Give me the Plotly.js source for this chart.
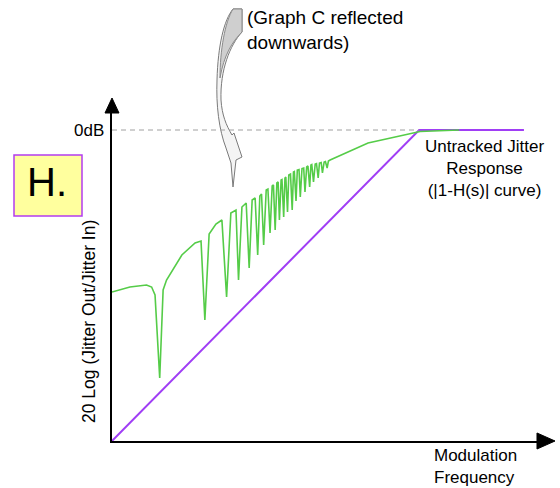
<!DOCTYPE html>
<html>
<head>
<meta charset="utf-8">
<script src="https://cdn.plot.ly/plotly-3.0.1.min.js"></script>
<style>
  html, body { margin: 0; padding: 0; background: #ffffff; }
  #chart { width: 560px; height: 488px; }
</style>
</head>
<body>
<div id="chart"></div>
<script>
// Untracked jitter response: measured curve (green) with its notches
const jitterFreq = [0, 4.2, 8.1, 9.3, 10.1, 11.2, 12.0, 12.8, 16.4, 19.5,
  20.9, 21.8, 22.8, 24.4, 25.8, 26.9, 27.9, 29.1, 29.7, 30.5,
  31.5, 32.2, 32.9, 33.6, 34.2, 34.7, 35.1, 35.6, 36.2, 36.6,
  37.1, 37.6, 37.9, 38.3, 38.7, 39.0, 39.3, 39.7, 39.9, 40.3,
  40.6, 40.8, 41.2, 41.5, 41.9, 42.3, 42.6, 42.8, 43.2, 43.5,
  43.9, 44.2, 44.6, 45.0, 45.3, 45.7, 46.0, 46.4, 46.7, 46.9,
  47.3, 47.7, 48.0, 48.4, 48.7, 49.1, 49.4, 49.8, 50.1, 50.5,
  50.8, 51.2, 60.1, 72.3, 81.5];
const jitterDb = [-16.2, -15.7, -15.5, -15.7, -16.5, -24.8, -16.0, -15.0, -12.5, -11.3,
  -11.1, -19.0, -10.4, -9.4, -9.0, -16.7, -8.3, -8.0, -15.0, -7.7,
  -7.3, -13.8, -7.0, -6.8, -12.5, -6.6, -6.4, -11.5, -6.0, -5.9,
  -10.3, -5.6, -5.5, -10.0, -5.3, -5.2, -9.0, -5.0, -4.95, -8.7,
  -4.8, -4.7, -8.2, -4.5, -4.4, -8.0, -4.2, -4.15, -7.1, -4.0,
  -3.95, -6.7, -3.85, -3.8, -6.2, -3.7, -3.6, -5.7, -3.5, -3.45,
  -5.2, -3.4, -3.35, -4.8, -3.3, -3.25, -4.3, -3.2, -3.15, -3.8,
  -3.1, -3.0, -1.3, -0.15, 0];

// Ideal |1-H(s)| asymptote (purple)
const idealFreq = [0, 72.1, 96.7];
const idealDb = [-31.1, 0, 0];

// 0 dB reference level
const refLevelDb = 0;
const refLevelSpan = [0, 72];

// Text
const refLabel = '0dB';
const yLabel = '20 Log (Jitter Out/Jitter In)';
const xLabel = 'Modulation<br>Frequency';
const curveLabel = 'Untracked Jitter<br>Response<br>(|1-H(s)| curve)';
const noteLabel = '(Graph C reflected<br>downwards)';
const panelLabel = 'H.';

// Plot-area geometry (pixels) and a helper to place decorations in paper units
const L = 112, R = 538, T = 112, B = 441;
const W = R - L, H = B - T;
const px = x => (x - L) / W;
const py = y => (B - y) / H;
const P = (x, y) => px(x).toFixed(5) + ',' + py(y).toFixed(5);

const FONT = 'Liberation Sans, Arial, Helvetica, sans-serif';

const traces = [
  {
    x: idealFreq, y: idealDb, type: 'scatter', mode: 'lines',
    line: { color: '#a03ef5', width: 2 }, hoverinfo: 'skip'
  },
  {
    x: jitterFreq, y: jitterDb, type: 'scatter', mode: 'lines',
    line: { color: '#55cc48', width: 1.6 }, hoverinfo: 'skip'
  }
];

const arrowOutline =
  'M ' + P(233, 9) + ' L ' + P(242, 9) + ' L ' + P(242, 32) +
  ' C ' + P(230, 45) + ' ' + P(220, 70) + ' ' + P(221, 100) +
  ' C ' + P(222, 115) + ' ' + P(226, 125) + ' ' + P(232, 135) +
  ' L ' + P(234, 133) + ' L ' + P(242, 157) + ' L ' + P(236, 160) +
  ' L ' + P(233, 187) + ' L ' + P(231, 163) + ' L ' + P(226, 148) +
  ' C ' + P(219, 130) + ' ' + P(216, 105) + ' ' + P(217, 80) +
  ' C ' + P(218, 45) + ' ' + P(224, 20) + ' ' + P(233, 9) + ' Z';
const arrowShade =
  'M ' + P(233, 9) + ' L ' + P(242, 9) + ' L ' + P(242, 32) +
  ' C ' + P(232, 42) + ' ' + P(224, 55) + ' ' + P(220, 78) +
  ' C ' + P(220, 50) + ' ' + P(225, 22) + ' ' + P(233, 9) + ' Z';

const shapes = [
  // curved pointer
  { type: 'path', xref: 'paper', yref: 'paper', path: arrowOutline,
    fillcolor: '#f4f4f4', line: { color: '#7a7a7a', width: 1 } },
  { type: 'path', xref: 'paper', yref: 'paper', path: arrowShade,
    fillcolor: '#cfcfcf', line: { color: '#8a8a8a', width: 1 } },
  // 0 dB reference line
  { type: 'line', xref: 'x', yref: 'y', x0: refLevelSpan[0], x1: refLevelSpan[1],
    y0: refLevelDb, y1: refLevelDb, line: { color: '#a0a0a0', width: 1, dash: '5px,4px' } },
  // axis arrowheads
  { type: 'path', xref: 'paper', yref: 'paper',
    path: 'M ' + P(112, 98) + ' L ' + P(119, 113) + ' L ' + P(105, 113) + ' Z',
    fillcolor: '#000000', line: { color: '#000000', width: 1 } },
  { type: 'path', xref: 'paper', yref: 'paper',
    path: 'M ' + P(555, 441) + ' L ' + P(537, 433) + ' L ' + P(537, 449) + ' Z',
    fillcolor: '#000000', line: { color: '#000000', width: 1 } },
  // panel label box
  { type: 'rect', xref: 'paper', yref: 'paper',
    x0: px(14), x1: px(82), y0: py(216), y1: py(155),
    fillcolor: '#ffff9e', line: { color: '#b23cf0', width: 1.5 } }
];

const annotations = [
  { xref: 'paper', yref: 'y', x: px(106), y: refLevelDb, xanchor: 'right', yanchor: 'middle',
    text: refLabel, showarrow: false, font: { size: 17, color: '#000' } },
  { xref: 'paper', yref: 'paper', x: px(89), y: py(322), xanchor: 'center', yanchor: 'middle',
    text: yLabel, textangle: -90, showarrow: false, font: { size: 17.5, color: '#000' } },
  { xref: 'paper', yref: 'paper', x: px(432), y: py(466), xanchor: 'left', yanchor: 'middle',
    align: 'left', text: xLabel, showarrow: false, font: { size: 17, color: '#000' } },
  { xref: 'paper', yref: 'paper', x: px(484), y: py(168), xanchor: 'center', yanchor: 'middle',
    align: 'center', text: curveLabel, showarrow: false, font: { size: 17, color: '#000' } },
  { xref: 'paper', yref: 'paper', x: px(245), y: py(30), xanchor: 'left', yanchor: 'middle',
    align: 'left', text: noteLabel, showarrow: false, font: { size: 19, color: '#000' } },
  { xref: 'paper', yref: 'paper', x: px(47), y: py(182), xanchor: 'center', yanchor: 'middle',
    text: panelLabel, showarrow: false, font: { size: 40, color: '#000' } }
];

const layout = {
  width: 560, height: 488, autosize: false,
  margin: { l: L, r: 560 - R, t: T, b: 488 - B, pad: 0 },
  paper_bgcolor: '#ffffff', plot_bgcolor: '#ffffff',
  font: { family: FONT, color: '#000' },
  showlegend: false,
  xaxis: { range: [0, 100], showline: true, linecolor: '#000', linewidth: 2,
    showgrid: false, zeroline: false, ticks: '', showticklabels: false, fixedrange: true },
  yaxis: { range: [-31.1, 1.8], showline: true, linecolor: '#000', linewidth: 2,
    showgrid: false, zeroline: false, ticks: '', showticklabels: false, fixedrange: true },
  shapes: shapes,
  annotations: annotations
};

Plotly.newPlot('chart', traces, layout, { displayModeBar: false, staticPlot: true });
</script>
</body>
</html>
